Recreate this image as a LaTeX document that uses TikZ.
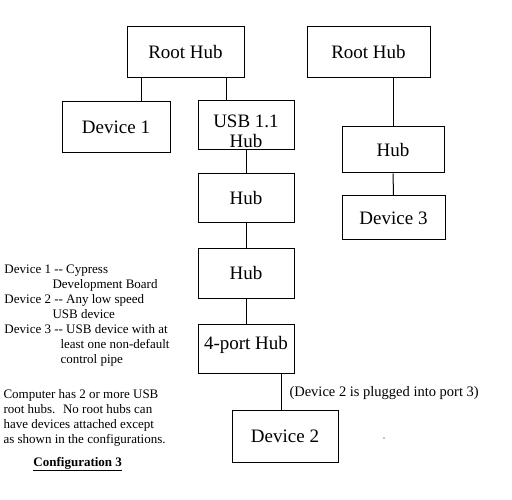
\documentclass[tikz,border=0pt]{standalone}
\usepackage{fontspec}
\setmainfont{Liberation Serif}
\begin{document}
\begin{tikzpicture}[x = 1pt, y = -1pt, line width = 1pt,
  box/.style = {draw, inner sep = 0pt, font = \fontsize{19}{21}\selectfont},
  note/.style = {anchor = base west, inner sep = 0pt, font = \fontsize{13}{15}\selectfont}]
\useasboundingbox (0,0) rectangle (512,500);
%
\node[box, minimum width = 117pt, minimum height = 51pt] (rootA) at (185.5,52.5) {Root Hub};
\node[box, minimum width = 108pt, minimum height = 51pt] (devA) at (116,127.5) {Device 1};
\node[box, minimum width = 96pt, minimum height = 49pt,
  label = {[align = center, inner sep = 0pt, yshift = -6pt, font = \fontsize{19}{20}\selectfont]center:USB 1.1\\Hub}] (usb) at (246,125.5) {};
\node[box, minimum width = 96pt, minimum height = 49pt] (hubA) at (246,198.5) {Hub};
\node[box, minimum width = 96pt, minimum height = 49pt] (hubB) at (246,273.5) {Hub};
\node[box, minimum width = 96pt, minimum height = 49pt, text depth = 12pt] (four) at (246,348.5) {4-port Hub};
\node[box, minimum width = 106pt, minimum height = 52pt] (devB) at (285,436) {Device 2};
\node[box, minimum width = 123pt, minimum height = 51pt] (rootB) at (368.5,52.5) {Root Hub};
\node[box, minimum width = 102pt, minimum height = 46pt] (hubC) at (393,150) {Hub};
\node[box, minimum width = 103pt, minimum height = 44pt] (devC) at (393.5,218) {Device 3};
%
\draw ([xshift = 25pt]devA.north) -- ([xshift = 25pt]devA.north |- rootA.south);
\draw ([xshift = -20pt]usb.north) -- ([xshift = -20pt]usb.north |- rootA.south);
\draw (usb) -- (hubA);
\draw (hubA) -- (hubB);
\draw (hubB) -- (four);
\draw ([xshift = -4pt]devB.north) -- ([xshift = -4pt]devB.north |- four.south);
\draw (hubC.north) -- (hubC.north |- rootB.south);
\draw (hubC) -- (devC);
%
\node[note, font = \fontsize{14.5}{15}\selectfont] (port) at (289,396) {(Device 2 is plugged into port 3)};
\fill (384,438) circle (0.7pt);
%
\node[note] (legA1) at (4,273) {Device 1 -{}- Cypress};
\node[note] (legA2) at (52,288) {Development Board};
\node[note] (legB1) at (4,303) {Device 2 -{}- Any low speed};
\node[note] (legB2) at (52,318) {USB device};
\node[note] (legC1) at (4,333) {Device 3 -{}- USB device with at};
\node[note] (legC2) at (60,348) {least one non-default};
\node[note] (legC3) at (60,363) {control pipe};
%
\node[note] (compA) at (3,398) {Computer has 2 or more USB};
\node[note] (compB) at (3,413) {root hubs.~ No root hubs can};
\node[note] (compC) at (3,428) {have devices attached except};
\node[note] (compD) at (3,443) {as shown in the configurations.};
%
\node[note, font = \fontsize{13}{15}\selectfont\bfseries] (cfg) at (33,466) {\underline{Configuration 3}};
\end{tikzpicture}
\end{document}
